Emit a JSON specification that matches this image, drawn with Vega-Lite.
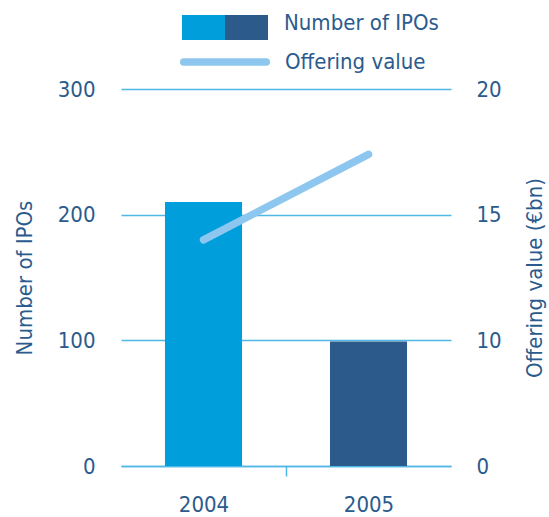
{
  "$schema": "https://vega.github.io/schema/vega-lite/v6.json",
  "width": 330,
  "height": 377,
  "autosize": {"type": "none"},
  "padding": {"left": 121, "top": 89, "right": 98, "bottom": 51},
  "config": {
    "view": {"stroke": null},
    "font": "DejaVu Sans Condensed, sans-serif"
  },
  "data": {
    "values": [
      {"year": "2004", "ipos": 210, "value": 14.0, "series": "Offering value"},
      {"year": "2005", "ipos": 99, "value": 17.4, "series": "Offering value"}
    ]
  },
  "encoding": {
    "x": {
      "field": "year",
      "type": "nominal",
      "scale": {"paddingInner": 0.533, "paddingOuter": 0.2665},
      "axis": {
        "title": null,
        "labelAngle": 0,
        "labelFontSize": 22,
        "labelColor": "#2B5B8C",
        "labelPadding": 18,
        "labelOffset": -82.5,
        "domainColor": "#4FB8E4",
        "domainWidth": 1.5,
        "tickSize": 10,
        "tickWidth": 1.5,
        "tickColor": "#4FB8E4",
        "tickOffset": 82.5,
        "tickOpacity": {"condition": {"test": "datum.value === '2004'", "value": 1}, "value": 0}
      }
    }
  },
  "layer": [
    {
      "mark": {"type": "bar"},
      "encoding": {
        "y": {
          "field": "ipos",
          "type": "quantitative",
          "scale": {"domain": [0, 300], "nice": false},
          "axis": {
            "values": [0, 100, 200, 300],
            "grid": true,
            "gridColor": "#4FB8E4",
            "gridWidth": 1.5,
            "ticks": false,
            "domain": false,
            "labelPadding": 26,
            "labelFontSize": 22,
            "labelColor": "#2B5B8C",
            "title": "Number of IPOs",
            "titleFontSize": 22,
            "titleFontWeight": "normal",
            "titleColor": "#2B5B8C",
            "titlePadding": 21
          }
        },
        "fill": {
          "field": "year",
          "type": "nominal",
          "scale": {"domain": ["2004", "2005"], "range": ["#009EDB", "#2C5A8A"]},
          "legend": {
            "orient": "none",
            "legendX": 61,
            "legendY": -83,
            "direction": "horizontal",
            "title": "Number of IPOs",
            "titleOrient": "right",
            "titleFontSize": 22,
            "titleFontWeight": "normal",
            "titleColor": "#2B5B8C",
            "titleAnchor": "middle",
            "titleBaseline": "middle",
            "titlePadding": 16,
            "labelExpr": "''",
            "labelOffset": 0,
            "columnPadding": 0,
            "symbolType": "M-1,-0.58H1V0.58H-1Z",
            "symbolSize": 1849,
            "symbolStrokeWidth": 0,
            "symbolOpacity": 1,
            "padding": 0
          }
        }
      }
    },
    {
      "mark": {"type": "line", "strokeWidth": 7.5, "strokeCap": "round"},
      "encoding": {
        "y": {
          "field": "value",
          "type": "quantitative",
          "scale": {"domain": [0, 10, 20], "range": [377, 251.33, 0], "nice": false, "zero": false},
          "axis": {
            "orient": "right",
            "values": [0, 10, 15, 20],
            "grid": false,
            "ticks": false,
            "domain": false,
            "labelPadding": 25,
            "labelFontSize": 22,
            "labelColor": "#2B5B8C",
            "title": "Offering value (€bn)",
            "titleFontSize": 22,
            "titleFontWeight": "normal",
            "titleColor": "#2B5B8C",
            "titleAngle": 270,
            "titleBaseline": "top",
            "titlePadding": 23
          }
        },
        "stroke": {
          "field": "series",
          "type": "nominal",
          "scale": {"range": ["#8DC6EE"]},
          "legend": {
            "orient": "none",
            "legendX": 59,
            "legendY": -72,
            "title": null,
            "symbolType": "stroke",
            "symbolSize": 6800,
            "symbolStrokeWidth": 7.5,
            "labelFontSize": 22,
            "labelColor": "#2B5B8C",
            "labelOffset": 15,
            "padding": 0,
            "encode": {"symbols": {"update": {"strokeCap": {"value": "round"}}}}
          }
        }
      }
    }
  ],
  "resolve": {"scale": {"y": "independent"}}
}
